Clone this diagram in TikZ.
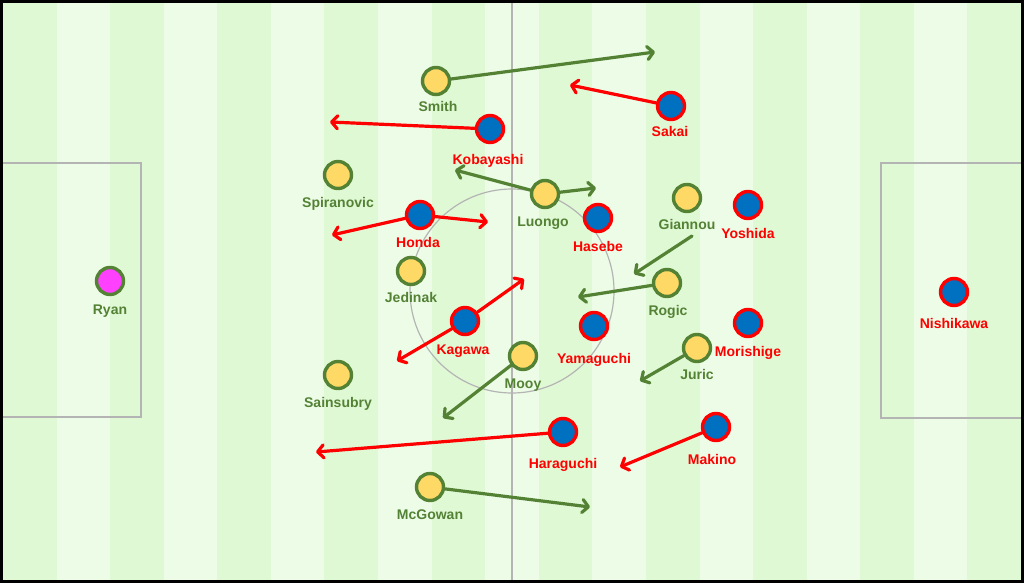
\documentclass[tikz,border=0pt]{standalone}
\usepackage{fontspec}
\setmainfont{Liberation Sans}
\usetikzlibrary{arrows.meta}
\definecolor{stripeA}{HTML}{E0F9D5}
\definecolor{stripeB}{HTML}{EDFCE7}
\definecolor{ausfill}{HTML}{FFD966}
\definecolor{ausline}{HTML}{548235}
\definecolor{jpnfill}{HTML}{0070C0}
\definecolor{jpnline}{HTML}{FF0000}
\definecolor{gkfill}{HTML}{FF40FF}
\definecolor{pitchline}{HTML}{B4B4B4}
\tikzset{
  player/.style={circle,minimum size=27pt,inner sep=0pt,line width=3.4pt},
  aus/.style={player,draw=ausline,fill=ausfill},
  jpn/.style={player,draw=jpnline,fill=jpnfill},
  gk/.style={player,draw=ausline,fill=gkfill},
  lbl/.style={font=\fontsize{14}{16}\selectfont\bfseries,inner sep=0pt,text height=10pt,text depth=3pt,yshift=-1.5pt},
  auslbl/.style={lbl,text=ausline},
  jpnlbl/.style={lbl,text=jpnline},
  mv/.style={line width=3.2pt,line cap=round,-{Straight Barb[length=6pt,width=13pt,round]}},
  ausmv/.style={mv,draw=ausline},
  jpnmv/.style={mv,draw=jpnline},
  pline/.style={draw=pitchline,line width=1.2pt}
}
\begin{document}
\begin{tikzpicture}[x=1pt,y=-1pt]
\useasboundingbox (0,0) rectangle (1024,583);
\fill[black] (0,0) rectangle (1024,583);
\foreach \i in {0,...,18}{
  \pgfmathsetmacro{\xa}{3+\i*53.5789}
  \pgfmathsetmacro{\xb}{3+(\i+1)*53.5789}
  \ifodd\i
    \fill[stripeB] (\xa,3) rectangle (\xb,580);
  \else
    \fill[stripeA] (\xa,3) rectangle (\xb,580);
  \fi
}
% pitch markings
\draw[pline] (512,3) -- (512,580);
\draw[pline] (512,291) circle[radius=102];
\draw[pline] (3,163) -- (141,163) -- (141,417) -- (3,417);
\draw[pline] (1021,163) -- (881,163) -- (881,418) -- (1021,418);
% players
\node[aus] (smith) at (436,81) {};
\node[jpn] (sakai) at (671,106) {};
\node[jpn] (koba) at (490,129) {};
\node[aus] (spir) at (338,175) {};
\node[aus] (luongo) at (545,194) {};
\node[jpn] (hasebe) at (598,218) {};
\node[jpn] (honda) at (420,215) {};
\node[aus] (giannou) at (687,198) {};
\node[jpn] (yoshida) at (748,205) {};
\node[aus] (jedinak) at (411,271) {};
\node[gk] (ryan) at (110,281) {};
\node[aus] (rogic) at (667,283) {};
\node[jpn] (nishi) at (954,292) {};
\node[jpn] (kagawa) at (465,321) {};
\node[jpn] (yama) at (594,326) {};
\node[jpn] (mori) at (748,323) {};
\node[aus] (juric) at (697,348) {};
\node[aus] (mooy) at (523,356) {};
\node[aus] (sains) at (338,375) {};
\node[jpn] (makino) at (716,427) {};
\node[jpn] (hara) at (563,432) {};
\node[aus] (mcg) at (430,487) {};
% labels
\node[auslbl] (smithL) at (438,106) {Smith};
\node[jpnlbl] (sakaiL) at (670,131) {Sakai};
\node[jpnlbl] (kobaL) at (488,159) {Kobayashi};
\node[auslbl] (spirL) at (338,202) {Spiranovic};
\node[auslbl] (luongoL) at (543,221) {Luongo};
\node[jpnlbl] (hasebeL) at (598,246) {Hasebe};
\node[jpnlbl] (hondaL) at (418,242) {Honda};
\node[auslbl] (giannouL) at (687,224) {Giannou};
\node[jpnlbl] (yoshidaL) at (748,233) {Yoshida};
\node[auslbl] (jedinakL) at (411,297) {Jedinak};
\node[auslbl] (ryanL) at (110,309) {Ryan};
\node[auslbl] (rogicL) at (668,310) {Rogic};
\node[jpnlbl] (nishiL) at (954,323) {Nishikawa};
\node[jpnlbl] (kagawaL) at (463,349) {Kagawa};
\node[jpnlbl] (yamaL) at (594,358) {Yamaguchi};
\node[jpnlbl] (moriL) at (748,351) {Morishige};
\node[auslbl] (juricL) at (697,374) {Juric};
\node[auslbl] (mooyL) at (523,383) {Mooy};
\node[auslbl] (sainsL) at (338,402) {Sainsubry};
\node[jpnlbl] (makinoL) at (712,459) {Makino};
\node[jpnlbl] (haraL) at (563,463) {Haraguchi};
\node[auslbl] (mcgL) at (430,514) {McGowan};
% arrow targets
\coordinate (smithT) at (655,52);
\coordinate (sakaiT) at (570,85);
\coordinate (kobaT) at (330,122);
\coordinate (luongoT1) at (455,170);
\coordinate (luongoT2) at (596,188);
\coordinate (hondaT1) at (488,222);
\coordinate (hondaT2) at (332,235);
\coordinate (giannouS) at (692,236);
\coordinate (giannouT) at (634,274);
\coordinate (rogicT) at (578,297);
\coordinate (juricT) at (640,381);
\coordinate (kagawaT1) at (524,279);
\coordinate (kagawaT2) at (397,361);
\coordinate (mooyT) at (443,418);
\coordinate (haraT) at (316,452);
\coordinate (makinoT) at (620,467);
\coordinate (mcgT) at (590,507);
% movements
\draw[ausmv] (smith) -- (smithT);
\draw[jpnmv] (sakai) -- (sakaiT);
\draw[jpnmv] (koba) -- (kobaT);
\draw[ausmv] (luongo) -- (luongoT1);
\draw[ausmv] (luongo) -- (luongoT2);
\draw[jpnmv] (honda) -- (hondaT1);
\draw[jpnmv] (honda) -- (hondaT2);
\draw[ausmv] (giannouS) -- (giannouT);
\draw[ausmv] (rogic) -- (rogicT);
\draw[ausmv] (juric) -- (juricT);
\draw[jpnmv] (kagawa) -- (kagawaT1);
\draw[jpnmv] (kagawa) -- (kagawaT2);
\draw[ausmv] (mooy) -- (mooyT);
\draw[jpnmv] (hara) -- (haraT);
\draw[jpnmv] (makino) -- (makinoT);
\draw[ausmv] (mcg) -- (mcgT);
\end{tikzpicture}
\end{document}
